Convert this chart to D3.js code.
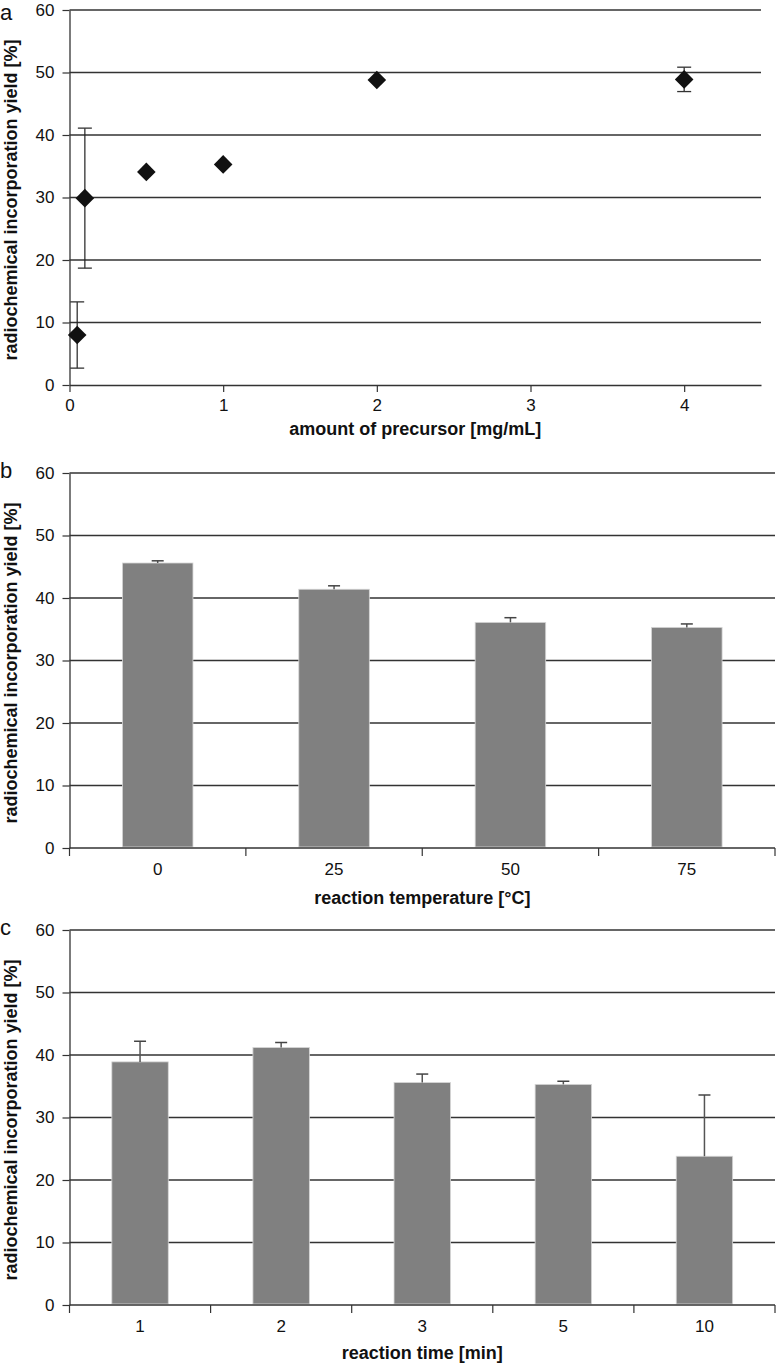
<!DOCTYPE html>
<html>
<head>
<meta charset="utf-8">
<script src="https://cdn.jsdelivr.net/npm/d3@7"></script>
<style>
  html, body { margin: 0; padding: 0; background: #fff; }
  svg { display: block; }
  text { font-family: "Liberation Sans", Arial, sans-serif; fill: #111; }
</style>
</head>
<body>
<svg id="chart" width="777" height="1367"></svg>
<script>
// ---- Data ----
// Panel a: amount of precursor [mg/mL]
const precursorAmount = [0.05, 0.1, 0.5, 1, 2, 4];
const precursorYield  = [8.0, 29.9, 34.1, 35.3, 48.8, 48.9];
const precursorError  = [5.3, 11.2, 0, 0, 0, 1.95];
const precursorTicks  = [0, 1, 2, 3, 4];

// Panel b: reaction temperature [°C]
const temperatureCategories = ["0", "25", "50", "75"];
const temperatureYield      = [45.6, 41.4, 36.1, 35.3];
const temperatureError      = [0.35, 0.55, 0.75, 0.55];

// Panel c: reaction time [min]
const timeCategories = ["1", "2", "3", "5", "10"];
const timeYield      = [38.9, 41.2, 35.6, 35.3, 23.8];
const timeError      = [3.3, 0.8, 1.35, 0.5, 9.8];

const yTicks = [0, 10, 20, 30, 40, 50, 60];
const yTitle = "radiochemical incorporation yield [%]";

// ---- Layout ----
const svg = d3.select("#chart");
const left = 69.5;
const panels = [
  { letter: "a", top: 10,  bottom: 385,  right: 761, titleOff: 50, letterY: 20, xTitle: "amount of precursor [mg/mL]" },
  { letter: "b", top: 473, bottom: 848,  right: 775, titleOff: 56, letterY: 478, xTitle: "reaction temperature [°C]" },
  { letter: "c", top: 930, bottom: 1305, right: 775, titleOff: 54, letterY: 935, xTitle: "reaction time [min]" }
];

function drawFrame(p) {
  const g = svg.append("g");
  const y = d3.scaleLinear().domain([0, 60]).range([p.bottom, p.top]);
  // gridlines
  g.selectAll("line.grid").data(yTicks.filter(d => d > 0)).enter().append("line")
    .attr("x1", left).attr("x2", p.right)
    .attr("y1", d => y(d)).attr("y2", d => y(d))
    .attr("stroke", "#333").attr("stroke-width", 1.3);
  // y axis
  const yAxis = d3.axisLeft(y).tickValues(yTicks).tickSize(7).tickPadding(8).tickSizeOuter(0);
  const ga = g.append("g").attr("transform", `translate(${left},0)`).call(yAxis);
  ga.select(".domain").attr("stroke", "#333").attr("stroke-width", 1.3);
  ga.selectAll(".tick line").attr("stroke", "#333").attr("stroke-width", 1.2);
  ga.selectAll(".tick text").style("font-size", "17px").style("font-family", "Liberation Sans, Arial, sans-serif").attr("fill", "#111");
  // panel letter
  g.append("text").attr("x", 0).attr("y", p.letterY).style("font-size", "22px").text(p.letter);
  // y title
  g.append("text")
    .attr("transform", `translate(17,${(p.top + p.bottom) / 2 + 2.5}) rotate(-90)`)
    .attr("text-anchor", "middle").style("font-size", "18px").style("font-weight", "bold")
    .text(yTitle);
  // x title
  g.append("text")
    .attr("x", (left + p.right) / 2).attr("y", p.bottom + p.titleOff)
    .attr("text-anchor", "middle").style("font-size", "18px").style("font-weight", "bold")
    .text(p.xTitle);
  return { g, y };
}

function styleXAxis(gx) {
  gx.select(".domain").attr("stroke", "#333").attr("stroke-width", 1.3);
  gx.selectAll(".tick line").attr("stroke", "#333").attr("stroke-width", 1.2);
  gx.selectAll(".tick text").style("font-size", "17px").style("font-family", "Liberation Sans, Arial, sans-serif").attr("fill", "#111");
}

// ---- Panel a (scatter) ----
(function () {
  const p = panels[0];
  const { g, y } = drawFrame(p);
  const x = d3.scaleLinear().domain([0, 4.5]).range([left, p.right]);
  const gx = g.append("g").attr("transform", `translate(0,${p.bottom})`)
    .call(d3.axisBottom(x).tickValues(precursorTicks).tickFormat(d3.format("d")).tickSize(7).tickPadding(7).tickSizeOuter(0));
  styleXAxis(gx);

  const pts = precursorAmount.map((a, i) => ({ a, v: precursorYield[i], e: precursorError[i] }));
  const eb = g.selectAll("g.err").data(pts.filter(d => d.e > 0)).enter().append("g");
  eb.append("line").attr("x1", d => x(d.a)).attr("x2", d => x(d.a))
    .attr("y1", d => y(d.v + d.e)).attr("y2", d => y(d.v - d.e))
    .attr("stroke", "#222").attr("stroke-width", 1.2);
  [1, -1].forEach(s => {
    eb.append("line").attr("x1", d => x(d.a) - 7).attr("x2", d => x(d.a) + 7)
      .attr("y1", d => y(d.v + s * d.e)).attr("y2", d => y(d.v + s * d.e))
      .attr("stroke", "#333").attr("stroke-width", 1.3);
  });
  const r = 9.3;
  g.selectAll("path.pt").data(pts).enter().append("path")
    .attr("d", d => {
      const cx = x(d.a), cy = y(d.v);
      return `M${cx},${cy - r}L${cx + r},${cy}L${cx},${cy + r}L${cx - r},${cy}Z`;
    })
    .attr("fill", "#111");
})();

// ---- Bar panels ----
function barPanel(p, cats, vals, errs) {
  const { g, y } = drawFrame(p);
  const x = d3.scaleBand().domain(cats).range([left, p.right]).paddingInner(0).paddingOuter(0);
  const bw = x.bandwidth() * 0.4;
  g.selectAll("rect.bar").data(cats).enter().append("rect")
    .attr("x", d => x(d) + (x.bandwidth() - bw) / 2)
    .attr("width", bw)
    .attr("y", (d, i) => y(vals[i]))
    .attr("height", (d, i) => y(0) - y(vals[i]) - 1)
    .attr("fill", "#808080").attr("stroke", "#d6d6d6").attr("stroke-width", 0.8);
  const cx = d => x(d) + x.bandwidth() / 2;
  g.selectAll("line.err").data(cats).enter().append("line")
    .attr("x1", cx).attr("x2", cx)
    .attr("y1", (d, i) => y(vals[i])).attr("y2", (d, i) => y(vals[i] + errs[i]))
    .attr("stroke", "#555").attr("stroke-width", 1.5);
  g.selectAll("line.cap").data(cats).enter().append("line")
    .attr("x1", d => cx(d) - 6).attr("x2", d => cx(d) + 6)
    .attr("y1", (d, i) => y(vals[i] + errs[i])).attr("y2", (d, i) => y(vals[i] + errs[i]))
    .attr("stroke", "#444").attr("stroke-width", 1.5);
  // x axis with ticks at band boundaries
  const gx = g.append("g").attr("transform", `translate(0,${p.bottom})`);
  gx.append("line").attr("class", "domain").attr("x1", left).attr("x2", p.right).attr("y1", 0).attr("y2", 0);
  const bounds = cats.map(c => x(c)).concat([x(cats[cats.length - 1]) + x.bandwidth()]);
  gx.selectAll("line.tk").data(bounds).enter().append("line")
    .attr("class", "tk").attr("x1", d => d).attr("x2", d => d).attr("y1", 0).attr("y2", 8)
    .attr("stroke", "#333").attr("stroke-width", 1.2);
  gx.selectAll("text.lbl").data(cats).enter().append("text")
    .attr("x", cx).attr("y", 27).attr("text-anchor", "middle")
    .style("font-size", "17px").text(d => d);
  gx.select(".domain").attr("stroke", "#333").attr("stroke-width", 1.3);
}

barPanel(panels[1], temperatureCategories, temperatureYield, temperatureError);
barPanel(panels[2], timeCategories, timeYield, timeError);
</script>
</body>
</html>
